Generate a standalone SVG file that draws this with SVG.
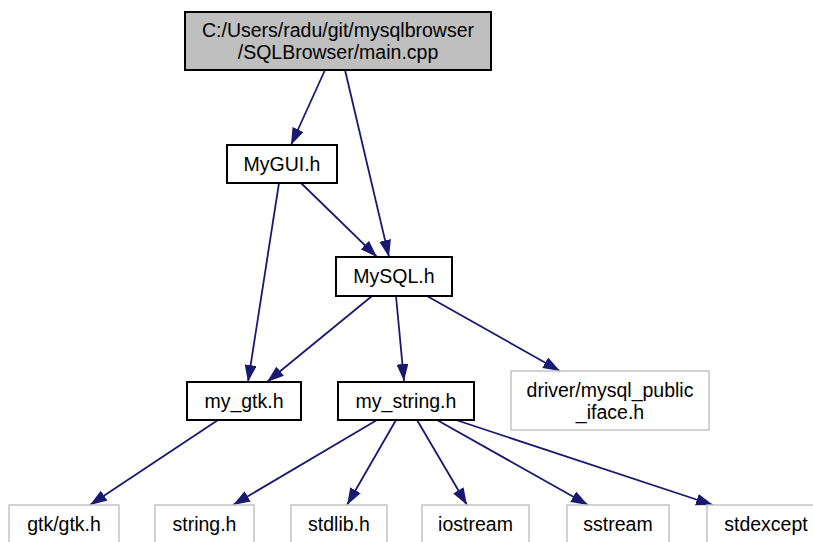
<svg xmlns="http://www.w3.org/2000/svg" width="813" height="542" viewBox="0 0 813 542">
<style>
text{font-family:"Liberation Sans",Arial,sans-serif;font-size:19.5px;fill:#000;text-anchor:middle}
.n{fill:#fff;stroke:#000;stroke-width:2}
.g{fill:#fff;stroke:#c4c4c4;stroke-width:1.5}
.root{fill:#bfbfbf;stroke:#000;stroke-width:2}
.e{fill:none;stroke:#191970;stroke-width:1.8;marker-end:url(#ah)}
</style>
<defs>
<marker id="ah" viewBox="0 0 17 12" refX="17" refY="6" markerWidth="17" markerHeight="12" orient="auto" markerUnits="userSpaceOnUse">
<path d="M0,0 L17,6 L0,12 Z" fill="#191970"/>
</marker>
</defs>
<rect width="813" height="542" fill="#fff"/>
<g id="edges">
<line class="e" x1="325" y1="70" x2="291" y2="145"/>
<line class="e" x1="345" y1="70" x2="389" y2="257"/>
<line class="e" x1="301" y1="183" x2="377" y2="257"/>
<line class="e" x1="279" y1="183" x2="248" y2="382"/>
<line class="e" x1="372" y1="296" x2="267" y2="382"/>
<line class="e" x1="396" y1="296" x2="404" y2="381"/>
<line class="e" x1="427" y1="296" x2="560" y2="371"/>
<line class="e" x1="218" y1="420" x2="90" y2="505"/>
<line class="e" x1="377" y1="420" x2="233" y2="505"/>
<line class="e" x1="396" y1="420" x2="347" y2="505"/>
<line class="e" x1="417" y1="420" x2="467" y2="505"/>
<line class="e" x1="437" y1="420" x2="588" y2="505"/>
<line class="e" x1="456" y1="420" x2="713" y2="505"/>
</g>
<g id="main">
<rect class="root" x="185" y="12" width="306" height="58"/>
<text x="338" y="37">C:/Users/radu/git/mysqlbrowser</text>
<text x="338" y="59">/SQLBrowser/main.cpp</text>
</g>
<g id="mygui">
<rect class="n" x="227" y="145" width="110" height="38"/>
<text x="282" y="171">MyGUI.h</text>
</g>
<g id="mysql">
<rect class="n" x="336" y="257" width="116" height="39"/>
<text x="394" y="283">MySQL.h</text>
</g>
<g id="my_gtk">
<rect class="n" x="187" y="382" width="114" height="38"/>
<text x="244" y="408">my_gtk.h</text>
</g>
<g id="my_string">
<rect class="n" x="338" y="382" width="136" height="38"/>
<text x="406" y="408">my_string.h</text>
</g>
<g id="driver">
<rect class="g" x="511" y="371" width="198" height="59"/>
<text x="610" y="397">driver/mysql_public</text>
<text x="610" y="419">_iface.h</text>
</g>
<g id="gtk">
<rect class="g" x="9" y="505" width="110" height="40"/>
<text x="64" y="531">gtk/gtk.h</text>
</g>
<g id="string">
<rect class="g" x="155" y="505" width="99" height="40"/>
<text x="204.5" y="531">string.h</text>
</g>
<g id="stdlib">
<rect class="g" x="291" y="505" width="96" height="40"/>
<text x="339" y="531">stdlib.h</text>
</g>
<g id="iostream">
<rect class="g" x="422" y="505" width="107" height="40"/>
<text x="475.5" y="531">iostream</text>
</g>
<g id="sstream">
<rect class="g" x="567" y="505" width="102" height="40"/>
<text x="618" y="531">sstream</text>
</g>
<g id="stdexcept">
<rect class="g" x="707" y="505" width="118" height="40"/>
<text x="766" y="531">stdexcept</text>
</g>
</svg>
